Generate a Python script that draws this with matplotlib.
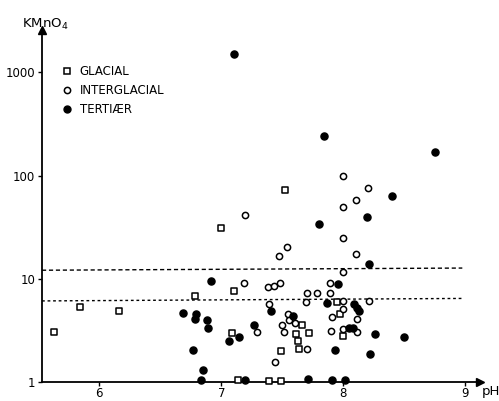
import matplotlib
matplotlib.use("Agg")
import matplotlib.pyplot as plt
from matplotlib.lines import Line2D

# data (pH, KMnO4)
glacial_ph = [5.63, 5.84, 6.16, 6.78, 7.00, 7.10, 7.09, 7.14, 7.52, 7.66, 7.72,
              7.63, 7.64, 7.49, 7.61, 7.95, 7.97, 8.00, 7.39, 7.49]
glacial_k = [3.07, 5.36, 4.9, 6.8, 31, 7.6, 2.96, 1.04, 72, 3.56, 2.96,
             2.5, 2.1, 2.0, 2.92, 6.0, 4.6, 2.8, 1.03, 1.03]

inter_ph = [7.19, 7.535, 7.47, 7.995, 8.20, 8.107, 8.00, 8.00, 8.107, 7.186,
            7.38, 7.43, 7.478, 8.00, 7.89, 7.70, 7.78, 7.89, 7.69, 8.00, 8.21,
            7.39, 7.547, 7.557, 7.60, 7.50, 7.51, 7.295, 8.00, 7.91, 8.11,
            7.90, 8.00, 8.11, 7.70, 7.44]
inter_k = [41.6, 20.4, 16.5, 98.7, 76, 58, 49.4, 24.6, 17.5, 9.2,
           8.3, 8.55, 9.2, 11.6, 9.15, 7.3, 7.3, 7.2, 6.0, 6.07, 6.03,
           5.65, 4.55, 4.0, 3.72, 3.6, 3.05, 3.07, 5.1, 4.3, 4.1,
           3.12, 3.26, 3.03, 2.07, 1.55]

tert_ph = [7.10, 7.84, 8.75, 8.40, 8.19, 7.80, 8.21, 6.915, 7.956, 7.87,
           8.085, 8.11, 8.13, 7.41, 6.686, 6.795, 6.787, 6.88, 6.89, 7.585,
           7.27, 7.06, 7.145, 8.05, 8.075, 8.26, 8.50, 7.93, 8.215, 6.77,
           6.85, 6.83, 7.19, 7.71, 7.91, 8.01]
tert_k = [1520, 240, 170, 63, 40, 33.6, 14, 9.6, 8.9, 5.86,
          5.65, 5.17, 4.9, 4.9, 4.7, 4.6, 4.05, 4.0, 3.3, 4.4,
          3.54, 2.5, 2.7, 3.36, 3.36, 2.92, 2.71, 2.04, 1.85, 2.04,
          1.3, 1.04, 1.04, 1.06, 1.04, 1.04]

# dashed limit lines (left and right end values)
limit_hi = [12.1, 12.7]
limit_lo = [6.1, 6.45]

xticks = [6, 7, 8, 9]
yticks = [1, 10, 100, 1000]

plt.rcParams['font.family'] = ['DejaVu Sans']

fig = plt.figure(figsize=(4.99, 4.01), dpi=100)
ax = fig.add_axes([42 / 499, 19 / 401, 438 / 499, 352 / 401])
ax.set_yscale('log')
ax.set_xlim(5.53, 9.12)
ax.set_ylim(1, 2570)

ax.spines['top'].set_visible(False)
ax.spines['right'].set_visible(False)
ax.spines['left'].set_linewidth(1.3)
ax.spines['bottom'].set_linewidth(1.3)
ax.plot([1], [0], marker='>', color='black', ms=6, transform=ax.transAxes, clip_on=False)
ax.plot([0], [1], marker='^', color='black', ms=6, transform=ax.transAxes, clip_on=False)

ax.set_xticks(xticks)
ax.set_xticklabels([str(t) for t in xticks])
ax.set_yticks(yticks)
ax.set_yticklabels([str(t) for t in yticks])
ax.minorticks_off()
ax.tick_params(direction='out', length=3, width=1, labelsize=8.5, pad=2)
ax.tick_params(axis='x', pad=0.5)

ax.plot([5.53, 8.975], limit_hi, color='black', lw=1, ls=(0, (3, 2)))
ax.plot([5.53, 8.975], limit_lo, color='black', lw=1, ls=(0, (2, 2)))

ax.scatter(glacial_ph, glacial_k, marker='s', s=16, facecolors='white',
           edgecolors='black', linewidths=1.1, clip_on=False, zorder=3)
ax.scatter(inter_ph, inter_k, marker='o', s=20, facecolors='white',
           edgecolors='black', linewidths=1.1, clip_on=False, zorder=3)
ax.scatter(tert_ph, tert_k, marker='o', s=26, color='black', clip_on=False, zorder=3)

handles = [
    Line2D([], [], marker='s', ls='none', mfc='white', mec='black', ms=4, mew=1.1),
    Line2D([], [], marker='o', ls='none', mfc='white', mec='black', ms=4.5, mew=1.1),
    Line2D([], [], marker='o', ls='none', color='black', ms=5),
]
ax.legend(handles, ['GLACIAL', 'INTERGLACIAL', 'TERTIÆR'], loc='upper left',
          bbox_to_anchor=(55 / 499, 1 - 59 / 401), bbox_transform=fig.transFigure,
          frameon=False, fontsize=8.5, handletextpad=0.6, labelspacing=0.5,
          handlelength=1.0, borderpad=0)

fig.text(22 / 499, 1 - 24 / 401, 'KMnO$_4$', fontsize=9.5, va='center', ha='left')
fig.text(482 / 499, 1 - 392 / 401, 'pH', fontsize=9.5, va='center', ha='left')

fig.savefig('out.png', dpi=100)
